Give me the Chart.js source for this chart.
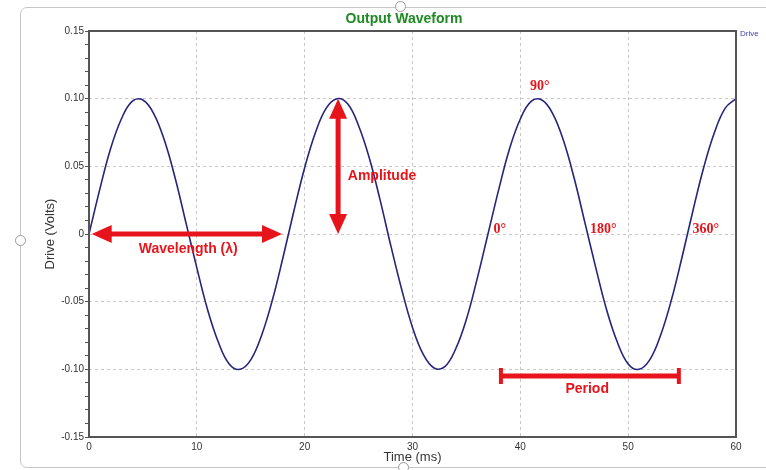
<!DOCTYPE html>
<html lang="en">
<head>
    <meta charset="UTF-8">
    <title>Output Waveform</title>
    <script src="https://cdn.jsdelivr.net/npm/chart.js"></script>
    <style>
        body {
            margin: 0;
            background-color: #ffffff;
            overflow: hidden;
            width: 766px;
            height: 470px;
            position: relative;
        }

        .frame {
            position: absolute;
            left: 20px;
            top: 7px;
            width: 800px;
            height: 459px;
            border: 1px solid #c6c6c6;
            border-radius: 7px;
        }

        .handle {
            position: absolute;
            width: 9px;
            height: 9px;
            border: 1px solid #9a9a9a;
            border-radius: 50%;
            background: #ffffff;
        }

        #chartWrap {
            position: absolute;
            left: 0;
            top: 0;
            width: 766px;
            height: 470px;
        }
    </style>
</head>
<body>
    <div class="frame"></div>
    <div class="handle" style="left: 395px; top: 1px;"></div>
    <div class="handle" style="left: 15px; top: 235px;"></div>
    <div class="handle" style="left: 398px; top: 462px;"></div>

    <div id="chartWrap">
        <canvas id="waveChart" width="766" height="470"></canvas>
    </div>

    <script>
        // readings taken off the trace, one per millisecond
        const timeMs = [
            0, 1, 2, 3, 4, 5, 6, 7, 8, 9,
            10, 11, 12, 13, 14, 15, 16, 17, 18, 19,
            20, 21, 22, 23, 24, 25, 26, 27, 28, 29,
            30, 31, 32, 33, 34, 35, 36, 37, 38, 39,
            40, 41, 42, 43, 44, 45, 46, 47, 48, 49,
            50, 51, 52, 53, 54, 55, 56, 57, 58, 59, 60
        ];
        const driveVolts = [
            0.000, 0.033, 0.063, 0.085, 0.098, 0.099, 0.089, 0.069, 0.041, 0.008,
            -0.025, -0.056, -0.080, -0.096, -0.100, -0.093, -0.075, -0.049, -0.017, 0.017,
            0.049, 0.075, 0.093, 0.100, 0.096, 0.080, 0.056, 0.025, -0.009, -0.041,
            -0.069, -0.089, -0.099, -0.098, -0.085, -0.063, -0.033, 0.000, 0.033, 0.063,
            0.085, 0.098, 0.099, 0.089, 0.069, 0.041, 0.008, -0.025, -0.056, -0.080,
            -0.096, -0.100, -0.093, -0.075, -0.049, -0.017, 0.017, 0.049, 0.075, 0.093, 0.100
        ];
        const xTicks = [0, 10, 20, 30, 40, 50, 60];
        const yMajorTicks = [-0.15, -0.10, -0.05, 0, 0.05, 0.10, 0.15];

        const RED = '#e8141c';

        function isMajor(v) {
            return yMajorTicks.some(t => Math.abs(t - v) < 1e-6);
        }

        function arrowHead(ctx, tipX, tipY, ang, len, half) {
            const bx = tipX - Math.cos(ang) * len;
            const by = tipY - Math.sin(ang) * len;
            ctx.beginPath();
            ctx.moveTo(tipX, tipY);
            ctx.lineTo(bx + Math.sin(ang) * half, by - Math.cos(ang) * half);
            ctx.lineTo(bx - Math.sin(ang) * half, by + Math.cos(ang) * half);
            ctx.closePath();
            ctx.fill();
        }

        function doubleArrow(ctx, x1, y1, x2, y2) {
            const ang = Math.atan2(y2 - y1, x2 - x1);
            const len = 20, half = 9;
            ctx.lineWidth = 5;
            ctx.beginPath();
            ctx.moveTo(x1 + Math.cos(ang) * (len - 2), y1 + Math.sin(ang) * (len - 2));
            ctx.lineTo(x2 - Math.cos(ang) * (len - 2), y2 - Math.sin(ang) * (len - 2));
            ctx.stroke();
            arrowHead(ctx, x2, y2, ang, len, half);
            arrowHead(ctx, x1, y1, ang + Math.PI, len, half);
        }

        // frame, title, legend and the explanatory markings
        const overlayPlugin = {
            id: 'overlay',
            afterDraw(chart) {
                const ctx = chart.ctx;
                const xs = chart.scales.x;
                const ys = chart.scales.y;
                const area = chart.chartArea;
                const px = v => xs.getPixelForValue(v);
                const py = v => ys.getPixelForValue(v);

                ctx.save();

                // plot box
                ctx.strokeStyle = '#555555';
                ctx.lineWidth = 2;
                ctx.strokeRect(area.left, area.top, area.right - area.left, area.bottom - area.top);

                // title
                ctx.fillStyle = '#1f8a23';
                ctx.font = 'bold 14px "Liberation Sans", Arial, sans-serif';
                ctx.textAlign = 'center';
                ctx.textBaseline = 'middle';
                ctx.fillText('Output Waveform', 404, 19);

                // series name
                ctx.fillStyle = '#4040b8';
                ctx.font = '8px "Liberation Sans", Arial, sans-serif';
                ctx.textAlign = 'left';
                ctx.fillText('Drive', area.right + 4, area.top + 3);

                ctx.fillStyle = RED;
                ctx.strokeStyle = RED;

                // wavelength
                doubleArrow(ctx, px(0.25), py(0), px(17.9), py(0));
                // amplitude
                doubleArrow(ctx, px(23.1), py(0.1), px(23.1), py(0));

                // period bar
                const pY = py(-0.105);
                ctx.lineWidth = 5;
                ctx.beginPath();
                ctx.moveTo(px(38.2), pY);
                ctx.lineTo(px(54.7), pY);
                ctx.stroke();
                ctx.lineWidth = 4;
                ctx.beginPath();
                ctx.moveTo(px(38.2), pY - 8);
                ctx.lineTo(px(38.2), pY + 8);
                ctx.moveTo(px(54.7), pY - 8);
                ctx.lineTo(px(54.7), pY + 8);
                ctx.stroke();

                ctx.font = 'bold 14px "Liberation Sans", Arial, sans-serif';
                ctx.textAlign = 'center';
                ctx.fillText('Wavelength (\u03BB)', px(9.2), py(-0.011));
                ctx.fillText('Period', px(46.2), py(-0.115));
                ctx.textAlign = 'left';
                ctx.fillText('Amplitude', px(24.0), py(0.043));

                // phase angles
                ctx.font = 'bold 14px "Liberation Serif", "Times New Roman", serif';
                ctx.textAlign = 'center';
                ctx.fillText('90\u00B0', px(41.8), py(0.109));
                ctx.fillText('0\u00B0', px(38.1), py(0.0037));
                ctx.fillText('180\u00B0', px(47.7), py(0.0037));
                ctx.fillText('360\u00B0', px(57.2), py(0.0037));

                ctx.restore();
            }
        };

        const tickFont = { family: '"Liberation Sans", Arial, sans-serif', size: 10 };
        const titleFont = { family: '"Liberation Sans", Arial, sans-serif', size: 13 };

        new Chart(document.getElementById('waveChart'), {
            type: 'line',
            data: {
                datasets: [{
                    label: 'Drive',
                    data: timeMs.map((t, i) => ({ x: t, y: driveVolts[i] })),
                    borderColor: '#25257c',
                    borderWidth: 1.6,
                    pointRadius: 0,
                    tension: 0.4,
                    fill: false
                }]
            },
            options: {
                responsive: false,
                animation: false,
                layout: {
                    padding: { top: 31, right: 30, bottom: 0, left: 0 }
                },
                plugins: {
                    legend: { display: false },
                    title: { display: false },
                    tooltip: { enabled: false }
                },
                scales: {
                    x: {
                        type: 'linear',
                        min: 0,
                        max: 60,
                        afterBuildTicks: s => { s.ticks = xTicks.map(v => ({ value: v })); },
                        afterFit: s => { s.height = 33; },
                        ticks: {
                            font: tickFont,
                            color: '#333333',
                            padding: 4,
                            maxRotation: 0
                        },
                        grid: {
                            color: '#c8c8c8',
                            drawTicks: false,
                            lineWidth: 1
                        },
                        border: { display: false, dash: [3, 3] },
                        title: {
                            display: true,
                            text: 'Time (ms)',
                            font: titleFont,
                            color: '#333333',
                            padding: { top: 0, bottom: 5 }
                        }
                    },
                    y: {
                        min: -0.15,
                        max: 0.15,
                        afterFit: s => { s.width = 89; },
                        ticks: {
                            stepSize: 0.01,
                            autoSkip: false,
                            font: tickFont,
                            color: '#333333',
                            padding: 1,
                            callback: v => {
                                if (!isMajor(v)) return '';
                                return Math.abs(v) < 1e-9 ? '0' : v.toFixed(2);
                            }
                        },
                        grid: {
                            color: ctx => isMajor(ctx.tick.value) ? '#c8c8c8' : 'rgba(0,0,0,0)',
                            tickColor: '#555555',
                            tickLength: 4,
                            lineWidth: 1
                        },
                        border: { display: false, dash: [3, 3] },
                        title: {
                            display: true,
                            text: 'Drive (Volts)',
                            font: titleFont,
                            color: '#333333',
                            padding: { top: 43, bottom: 0 }
                        }
                    }
                }
            },
            plugins: [overlayPlugin]
        });
    </script>
</body>
</html>
